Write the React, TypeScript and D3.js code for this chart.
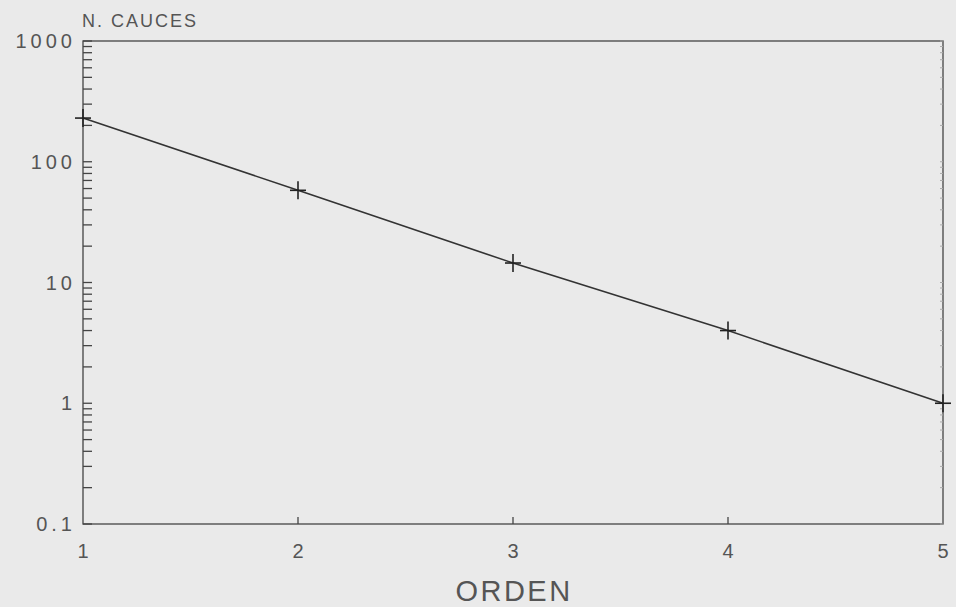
import React, { useEffect, useRef } from 'react';
import * as d3 from 'd3';

// datos
const ordenes = [1, 2, 3, 4, 5];
const nCauces = [230, 58, 14.5, 4, 1];
const yTicks = [0.1, 1, 10, 100, 1000];
const yTickLabels = ['0.1', '1', '10', '100', '1000'];
const xTickLabels = ['1', '2', '3', '4', '5'];

export default function App() {
  const ref = useRef<SVGSVGElement>(null);

  useEffect(() => {
    const width = 956;
    const height = 607;
    const marge = { top: 41, right: 13, bottom: 83, left: 83 };
    const ink = '#444';

    const svg = d3.select(ref.current);
    svg.selectAll('*').remove();
    svg.attr('width', width).attr('height', height);

    svg.append('rect')
      .attr('width', width)
      .attr('height', height)
      .attr('fill', '#eaeaea');

    const x = d3.scaleLinear()
      .domain([1, 5])
      .range([marge.left, width - marge.right]);
    const y = d3.scaleLog()
      .domain([0.1, 1000])
      .range([height - marge.bottom, marge.top]);

    const font = '"Liberation Sans", Arial, sans-serif';

    // marco
    svg.append('rect')
      .attr('x', x(1))
      .attr('y', y(1000))
      .attr('width', x(5) - x(1))
      .attr('height', y(0.1) - y(1000))
      .attr('fill', 'none')
      .attr('stroke', ink)
      .attr('stroke-width', 1.3);

    // marcas menores del eje y
    const minor: number[] = [];
    for (let e = -1; e < 3; e++) {
      for (let m = 1; m <= 9; m++) minor.push(m * Math.pow(10, e));
    }
    minor.push(1000);

    svg.append('g')
      .selectAll('line')
      .data(minor)
      .enter()
      .append('line')
      .attr('x1', x(1))
      .attr('x2', x(1) + 9)
      .attr('y1', d => y(d))
      .attr('y2', d => y(d))
      .attr('stroke', ink)
      .attr('stroke-width', 1.3);

    // marcas del lado derecho (muy tenues)
    svg.append('g')
      .selectAll('line')
      .data(minor)
      .enter()
      .append('line')
      .attr('x1', x(5))
      .attr('x2', x(5) - 3)
      .attr('y1', d => y(d))
      .attr('y2', d => y(d))
      .attr('stroke', '#aaa')
      .attr('stroke-width', 1);

    // marcas del eje x
    svg.append('g')
      .selectAll('line')
      .data(ordenes.slice(1, 4))
      .enter()
      .append('line')
      .attr('x1', d => x(d))
      .attr('x2', d => x(d))
      .attr('y1', y(0.1))
      .attr('y2', y(0.1) - 7)
      .attr('stroke', ink)
      .attr('stroke-width', 1.3);

    // etiquetas eje y (espaciado ancho como la fuente del plotter)
    svg.append('g')
      .selectAll('text')
      .data(yTicks)
      .enter()
      .append('text')
      .attr('x', x(1) - 11 + 4)
      .attr('y', d => y(d) + 7)
      .attr('text-anchor', 'end')
      .attr('font-family', font)
      .attr('font-size', 20)
      .attr('letter-spacing', 4)
      .attr('fill', '#555')
      .text((d, i) => yTickLabels[i]);

    // etiquetas eje x
    svg.append('g')
      .selectAll('text')
      .data(ordenes)
      .enter()
      .append('text')
      .attr('x', d => x(d))
      .attr('y', y(0.1) + 34)
      .attr('text-anchor', 'middle')
      .attr('font-family', font)
      .attr('font-size', 20)
      .attr('fill', '#555')
      .text((d, i) => xTickLabels[i]);

    svg.append('text')
      .attr('x', (x(1) + x(5)) / 2 + 1)
      .attr('y', 601)
      .attr('text-anchor', 'middle')
      .attr('font-family', font)
      .attr('font-size', 29)
      .attr('letter-spacing', 2.5)
      .attr('fill', '#555')
      .text('ORDEN');

    svg.append('text')
      .attr('x', x(1) - 1)
      .attr('y', 27)
      .attr('font-family', font)
      .attr('font-size', 18)
      .attr('letter-spacing', 2)
      .attr('fill', '#555')
      .text('N. CAUCES');

    // linea
    const pts = ordenes.map((o, i) => [o, nCauces[i]] as [number, number]);
    const line = d3.line<[number, number]>()
      .x(d => x(d[0]))
      .y(d => y(d[1]));

    svg.append('path')
      .attr('d', line(pts))
      .attr('fill', 'none')
      .attr('stroke', '#333')
      .attr('stroke-width', 1.6);

    // cruces
    const gs = svg.append('g')
      .selectAll('g')
      .data(pts)
      .enter()
      .append('g')
      .attr('transform', d => 'translate(' + x(d[0]) + ',' + y(d[1]) + ')');
    gs.append('line')
      .attr('x1', -8).attr('x2', 8)
      .attr('stroke', '#222').attr('stroke-width', 1.6);
    gs.append('line')
      .attr('y1', -9).attr('y2', 9)
      .attr('stroke', '#222').attr('stroke-width', 1.6);
  }, []);

  return (
    <svg ref={ref} style={{ position: 'fixed', left: 0, top: 0, display: 'block' }} />
  );
}
